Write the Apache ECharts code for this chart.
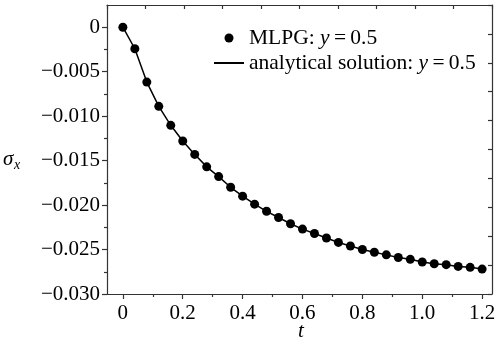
<!DOCTYPE html>
<html>
<head>
<meta charset="utf-8">
<script src="https://cdn.jsdelivr.net/npm/echarts@6/dist/echarts.min.js"></script>
<style>
  html, body { margin: 0; padding: 0; background: #fff; }
  #chart { width: 497px; height: 340px; }
</style>
</head>
<body>
<div id="chart"></div>
<script>
// Time samples t and stress sigma_x along y = 0.5
const tValues = [0, 0.04, 0.08, 0.12, 0.16, 0.20, 0.24, 0.28, 0.32, 0.36, 0.40,
  0.44, 0.48, 0.52, 0.56, 0.60, 0.64, 0.68, 0.72, 0.76, 0.80,
  0.84, 0.88, 0.92, 0.96, 1.00, 1.04, 1.08, 1.12, 1.16, 1.20];
const mlpgSigma = [0, -0.00242, -0.00617, -0.0089, -0.01103, -0.0128, -0.0143, -0.0157, -0.0168, -0.0180, -0.0190,
  -0.0199, -0.0207, -0.0214, -0.0221, -0.0227, -0.0232, -0.0237, -0.0242, -0.0246, -0.0250,
  -0.0253, -0.0256, -0.0259, -0.0261, -0.0264, -0.0266, -0.0267, -0.0269, -0.0270, -0.0272];
const analyticalSigma = [0, -0.00242, -0.00617, -0.0089, -0.01103, -0.0128, -0.0143, -0.0157, -0.0168, -0.0180, -0.0190,
  -0.0199, -0.0207, -0.0214, -0.0221, -0.0227, -0.0232, -0.0237, -0.0242, -0.0246, -0.0250,
  -0.0253, -0.0256, -0.0259, -0.0261, -0.0264, -0.0266, -0.0267, -0.0269, -0.0270, -0.0272];

// Tick positions
const xMajorTicks = [0, 0.2, 0.4, 0.6, 0.8, 1.0, 1.2];
const xMinorTicks = [0.1, 0.3, 0.5, 0.7, 0.9, 1.1];
const yMajorTicks = [-0.030, -0.025, -0.020, -0.015, -0.010, -0.005, 0];
const yMinorTicks = [-0.0275, -0.0225, -0.0175, -0.0125, -0.0075, -0.0025];

const seriesNames = ['MLPG: y=0.5', 'analytical solution: y=0.5'];

const FONT = "'Liberation Serif', 'Times New Roman', serif";
const INK = '#000';
const FRAME = '#333';

const chart = echarts.init(document.getElementById('chart'), null, { renderer: 'canvas' });

function fmtX(v) { return v === 0 ? '0' : v.toFixed(1); }
function fmtY(v) { return Math.abs(v) < 1e-12 ? '0' : '\u2212' + Math.abs(v).toFixed(3); }

const plainAxis = {
  type: 'value', splitLine: { show: false }, axisLabel: { show: false },
  axisTick: { show: false }, axisLine: { show: false, onZero: false }
};

chart.setOption({
  backgroundColor: '#fff',
  animation: false,
  grid: { left: 107, right: 5, top: 5, bottom: 46, outerBoundsMode: 'none', containLabel: false },
  legend: {
    orient: 'vertical', left: 208, top: 22, itemGap: 3,
    itemWidth: 30, itemHeight: 9,
    data: [
      { name: seriesNames[0], icon: 'circle' },
      { name: seriesNames[1], itemStyle: { opacity: 0 } }
    ],
    formatter: function (name) {
      const parts = name.split('y=');
      return '{n|' + parts[0] + '}{i|y}{n|\u2009=\u2009' + parts[1] + '}';
    },
    textStyle: {
      color: INK, fontFamily: FONT, fontSize: 21.5,
      rich: {
        n: { fontFamily: FONT, fontSize: 21.5, color: INK },
        i: { fontFamily: FONT, fontSize: 21.5, fontStyle: 'italic', color: INK }
      }
    }
  },
  xAxis: [
    {
      type: 'value', position: 'bottom', min: -0.053, max: 1.233,
      splitLine: { show: false },
      axisLine: { show: true, onZero: false, lineStyle: { color: FRAME, width: 1.2 } },
      axisTick: { show: true, inside: false, length: 5, customValues: xMajorTicks, lineStyle: { color: FRAME, width: 1.2 } },
      axisLabel: { show: true, customValues: xMajorTicks, formatter: fmtX, margin: 9,
        color: INK, fontFamily: FONT, fontSize: 21 }
    },
    Object.assign({}, plainAxis, {
      position: 'bottom', min: -0.053, max: 1.233,
      axisTick: { show: true, inside: false, length: 3, customValues: xMinorTicks, lineStyle: { color: FRAME, width: 1.2 } }
    }),
    Object.assign({}, plainAxis, {
      position: 'top', min: 0, max: 10, interval: 1,
      axisLine: { show: true, onZero: false, lineStyle: { color: FRAME, width: 1.2 } },
      axisTick: { show: true, inside: true, length: 4, lineStyle: { color: FRAME, width: 1.2 } }
    })
  ],
  yAxis: [
    {
      type: 'value', position: 'left', min: -0.030, max: 0.0025,
      splitLine: { show: false },
      axisLine: { show: true, onZero: false, lineStyle: { color: FRAME, width: 1.2 } },
      axisTick: { show: true, inside: false, length: 5, customValues: yMajorTicks, lineStyle: { color: FRAME, width: 1.2 } },
      axisLabel: { show: true, customValues: yMajorTicks, formatter: fmtY, margin: 7,
        color: INK, fontFamily: FONT, fontSize: 21 }
    },
    Object.assign({}, plainAxis, {
      position: 'left', min: -0.030, max: 0.0025,
      axisTick: { show: true, inside: false, length: 3, customValues: yMinorTicks, lineStyle: { color: FRAME, width: 1.2 } }
    }),
    Object.assign({}, plainAxis, {
      position: 'right', min: 0, max: 10, interval: 1,
      axisLine: { show: true, onZero: false, lineStyle: { color: FRAME, width: 1.2 } },
      axisTick: { show: true, inside: true, length: 4, lineStyle: { color: FRAME, width: 1.2 } }
    })
  ],
  graphic: [
    // axis titles: sigma_x on the left, t below the bottom axis
    { type: 'text', left: 3, top: 149, style: { text: '\u03c3', font: "italic 21px 'Liberation Serif', serif", fill: INK } },
    { type: 'text', left: 14, top: 158, style: { text: 'x', font: "italic 14px 'Liberation Serif', serif", fill: INK } },
    { type: 'text', x: 301, y: 331, style: { text: 't', font: "italic 21px 'Liberation Serif', serif", fill: INK,
        align: 'center', verticalAlign: 'middle' } }
  ],
  series: [
    {
      name: seriesNames[1], type: 'line', xAxisIndex: 0, yAxisIndex: 0,
      data: tValues.map((t, i) => [t, analyticalSigma[i]]),
      symbol: 'none', lineStyle: { color: INK, width: 1.5 }, itemStyle: { color: INK }, z: 2
    },
    {
      name: seriesNames[0], type: 'scatter', xAxisIndex: 0, yAxisIndex: 0,
      data: tValues.map((t, i) => [t, mlpgSigma[i]]),
      symbol: 'circle', symbolSize: 9, itemStyle: { color: INK, opacity: 1 }, z: 3
    }
  ]
});
</script>
</body>
</html>
